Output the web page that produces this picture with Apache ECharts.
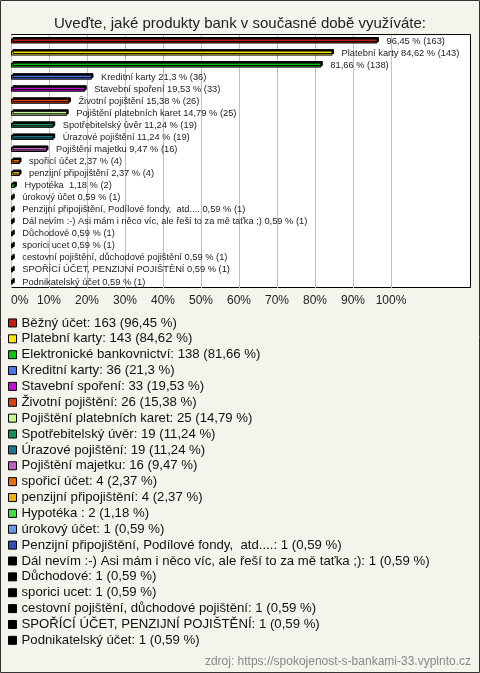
<!DOCTYPE html>
<html><head><meta charset="utf-8">
<script src="https://cdn.jsdelivr.net/npm/echarts@6/dist/echarts.min.js"></script>
<style>html,body{margin:0;padding:0;background:#f4f3ec}#c{width:480px;height:673px}</style>
</head><body><div id="c"></div>
<script>
const titleText = 'Uveďte, jaké produkty bank v současné době využíváte:';
const sourceText = 'zdroj: https://spokojenost-s-bankami-33.vyplnto.cz';
const categories = ['Běžný účet','Platební karty','Elektronické bankovnictví','Kreditní karty','Stavební spoření','Životní pojištění','Pojištění platebních karet','Spotřebitelský úvěr','Úrazové pojištění','Pojištění majetku','spořicí účet','penzijní připojištění','Hypotéka ','úrokový účet','Penzijní připojištění, Podílové fondy,  atd....','Dál nevím :-) Asi mám i něco víc, ale řeší to za mě taťka ;)','Důchodové','sporici ucet','cestovní pojištění, důchodové pojištění','SPOŘÍCÍ ÚČET, PENZIJNÍ POJIŠTĚNÍ','Podnikatelský účet'];
const counts = [163,143,138,36,33,26,25,19,19,16,4,4,2,1,1,1,1,1,1,1,1];
const percents = [96.45,84.62,81.66,21.3,19.53,15.38,14.79,11.24,11.24,9.47,2.37,2.37,1.18,0.59,0.59,0.59,0.59,0.59,0.59,0.59,0.59];
const percentText = ['96,45','84,62','81,66','21,3','19,53','15,38','14,79','11,24','11,24','9,47','2,37','2,37','1,18','0,59','0,59','0,59','0,59','0,59','0,59','0,59','0,59'];
const showNameInLabel = [false,true,false,true,true,true,true,true,true,true,true,true,true,true,true,true,true,true,true,true,true];
const colors = ['#c41e0e','#ffe800','#10c010','#4a78e8','#c010d0','#e04010','#c8f890','#18905a','#1f7890','#c060c0','#e07010','#e8b010','#40e040','#6c98e8','#3050b8','#000000','#000000','#000000','#000000','#000000','#000000'];
const xTicks = {min:0, max:100, interval:10};
const gridLineValues = [10,20,30,40,50,60,70,80,90,100];

const FONT = 'Liberation Sans, Arial, sans-serif';
const series = categories.map((name, i) => ({
  name: name,
  type: 'bar',
  barWidth: 5,
  barGap: '-100%',
  z: 5,
  data: categories.map((c, j) => j === i ? percents[i] : '-'),
  itemStyle: {color: colors[i], borderColor: '#000', borderWidth: 1, shadowColor: '#000', shadowOffsetX: 1.5, shadowOffsetY: -1.5, shadowBlur: 0},
  label: {
    show: true, position: 'right', distance: 9,
    fontFamily: FONT, fontSize: 9.3, color: '#222',
    formatter: () => (showNameInLabel[i] ? name + ' ' : '') + percentText[i] + ' % (' + counts[i] + ')'
  },
  silent: true
}));
series.push({
  name: '__gridlines', type: 'custom', z: 3, silent: true,
  encode: {x: 0, y: 1},
  data: gridLineValues.map(v => [v, 0]),
  renderItem: (params, api) => {
    const cs = params.coordSys;
    const x = Math.round(api.coord([api.value(0), 0])[0]) + 0.5;
    return {type: 'line', shape: {x1: x, y1: cs.y, x2: x, y2: cs.y + cs.height},
      style: {stroke: '#c0c0c0', lineWidth: 1}};
  }
});

const chart = echarts.init(document.getElementById('c'), null, {renderer: 'canvas'});
chart.setOption({
  backgroundColor: '#f4f3ec',
  animation: false,
  textStyle: {fontFamily: FONT},
  title: {text: titleText, left: 'center', top: 11, textStyle: {fontFamily: FONT, fontSize: 15, fontWeight: 'normal', color: '#222'}},
  graphic: [
    {type: 'rect', shape: {x: 0.5, y: 0.5, width: 479, height: 672}, style: {fill: 'none', stroke: '#333', lineWidth: 1}},
    {type: 'rect', z: -50, shape: {x: 392, y: 35, width: 79, height: 252}, style: {fill: '#fff'}},
    {type: 'rect', shape: {x: 11.5, y: 34.5, width: 459, height: 253}, style: {fill: 'none', stroke: '#000', lineWidth: 1}},
    {type: 'text', right: 9, top: 656, style: {text: sourceText, font: '12px ' + FONT, fill: '#888'}}
  ],
  grid: {left: 11, right: 89, top: 35, bottom: 385, show: true, backgroundColor: '#fff', borderWidth: 0},
  xAxis: {type: 'value', min: xTicks.min, max: xTicks.max, interval: xTicks.interval,
    axisLine: {show: false}, axisTick: {show: false},
    splitLine: {show: true, lineStyle: {color: '#c0c0c0', width: 1}},
    axisLabel: {formatter: '{value}%', fontFamily: FONT, fontSize: 12, color: '#222', margin: 7, alignMinLabel: 'left'}},
  yAxis: {type: 'category', data: categories, inverse: true,
    axisLine: {show: false}, axisTick: {show: false}, axisLabel: {show: false}, splitLine: {show: false}},
  legend: {
    orient: 'vertical', left: 8, top: 315, padding: 0, itemWidth: 8, itemHeight: 8, itemGap: 0,
    icon: 'rect', selectedMode: false,
    itemStyle: {borderColor: '#000', borderWidth: 1, shadowBlur: 0, shadowOffsetX: 0, shadowOffsetY: 0},
    textStyle: {fontFamily: FONT, fontSize: 13.2, color: '#111', lineHeight: 15.87},
    formatter: (name) => { const i = categories.indexOf(name); return name + ': ' + counts[i] + ' (' + percentText[i] + ' %)'; },
    data: categories
  },
  series: series
});
</script></body></html>
